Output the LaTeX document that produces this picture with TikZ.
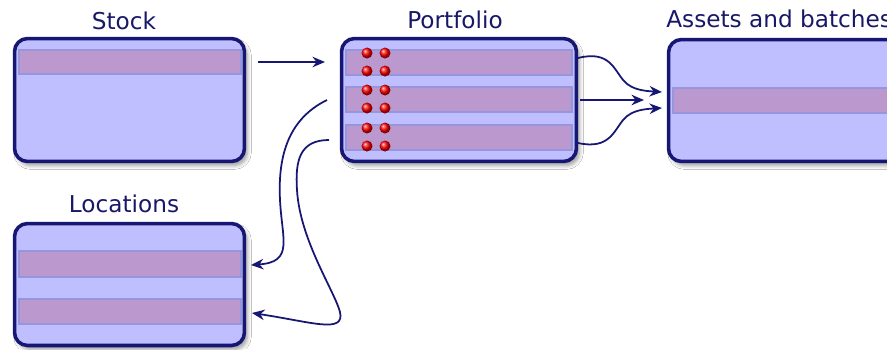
\documentclass[tikz,border=0pt]{standalone}
\usepackage{fontspec}
\setmainfont{DejaVu Sans}
\usetikzlibrary{arrows.meta,shadows.blur}
\definecolor{boxfill}{RGB}{191,191,255}
\definecolor{bandfill}{RGB}{187,153,206}
\definecolor{bandline}{RGB}{150,150,222}
\definecolor{navy}{RGB}{22,22,115}
\definecolor{txt}{RGB}{24,24,104}
\begin{document}
\begin{tikzpicture}[x=0.02cm,y=-0.02cm,
 panel/.style={draw=navy, line width=2pt, fill=boxfill, rounded corners=0.26cm, inner sep=0pt,
   blur shadow={shadow xshift=0.06cm, shadow yshift=-0.08cm, shadow blur steps=6, shadow opacity=40}},
 band/.style={fill=bandfill, draw=bandline, line width=0.8pt},
 title/.style={font=\fontsize{13.2}{15}\selectfont, text=txt, anchor=base, inner sep=0pt},
 conn/.style={draw=navy, line width=1pt, -{Stealth[length=2.5mm,width=2.1mm]}},
 dot/.style={circle, inner sep=0pt, minimum size=0.22cm, ball color=red}
]
\clip (0,0) rectangle (887,349);
\fill[white] (0,0) rectangle (887,349);

% titles
\node[title] (tstock) at (124,29) {Stock};
\node[title] (tport) at (455,28) {Portfolio};
\node[title, anchor=base west] (tassets) at (666,27) {Assets and batches};
\node[title] (tloc) at (124,212) {Locations};

% panels
\node[panel, minimum width=4.6cm, minimum height=2.46cm] (stock) at (129.5,100) {};
\node[panel, minimum width=4.7cm, minimum height=2.46cm] (port) at (459,100) {};
\node[panel, minimum width=4.72cm, minimum height=2.44cm] (assets) at (786.5,100.5) {};
\node[panel, minimum width=4.6cm, minimum height=2.44cm] (loc) at (129.5,284.5) {};

% bands
\path[band] (19,50) rectangle (241,74);
\path[band] (346,50) rectangle (572,75);
\path[band] (346,87) rectangle (572,112);
\path[band] (346,125) rectangle (572,150);
\path[band] (673,88) rectangle (900,113);
\path[band] (19,251) rectangle (241,277);
\path[band] (19,299) rectangle (241,324);

% dots
\foreach \y [count=\i] in {53,71,90,108,128,146}{
  \node[dot] (da\i) at (367,\y) {};
  \node[dot] (db\i) at (385,\y) {};
}

% connector ends
\coordinate (s1) at (258,62);
\coordinate (p1) at (325,62);
\coordinate (pu) at (578,58);
\coordinate (pm) at (580,100);
\coordinate (pl) at (578,143);
\coordinate (au) at (662,92);
\coordinate (am) at (644,100);
\coordinate (al) at (662,108);
\coordinate (q1) at (327,100);
\coordinate (q2) at (329,140);
\coordinate (l1) at (251,265);
\coordinate (l2) at (252,313);

% connectors
\draw[conn] (s1) -- (p1);
\draw[conn] (pm) -- (am);
\draw[conn] (pu) .. controls (610,50) and (614,70) .. (624,81) .. controls (632,90) and (645,91) .. (au);
\draw[conn] (pl) .. controls (610,150) and (614,130) .. (624,119) .. controls (632,110) and (645,109) .. (al);
\draw[conn] (q1) .. controls (286,120) and (278,160) .. (280,200) .. controls (282,240) and (294,262) .. (l1);
\draw[conn] (q2) .. controls (300,140) and (295,160) .. (297,190) .. controls (300,240) and (334,290) .. (340,312) .. controls (345,334) and (312,322) .. (l2);
\end{tikzpicture}
\end{document}
